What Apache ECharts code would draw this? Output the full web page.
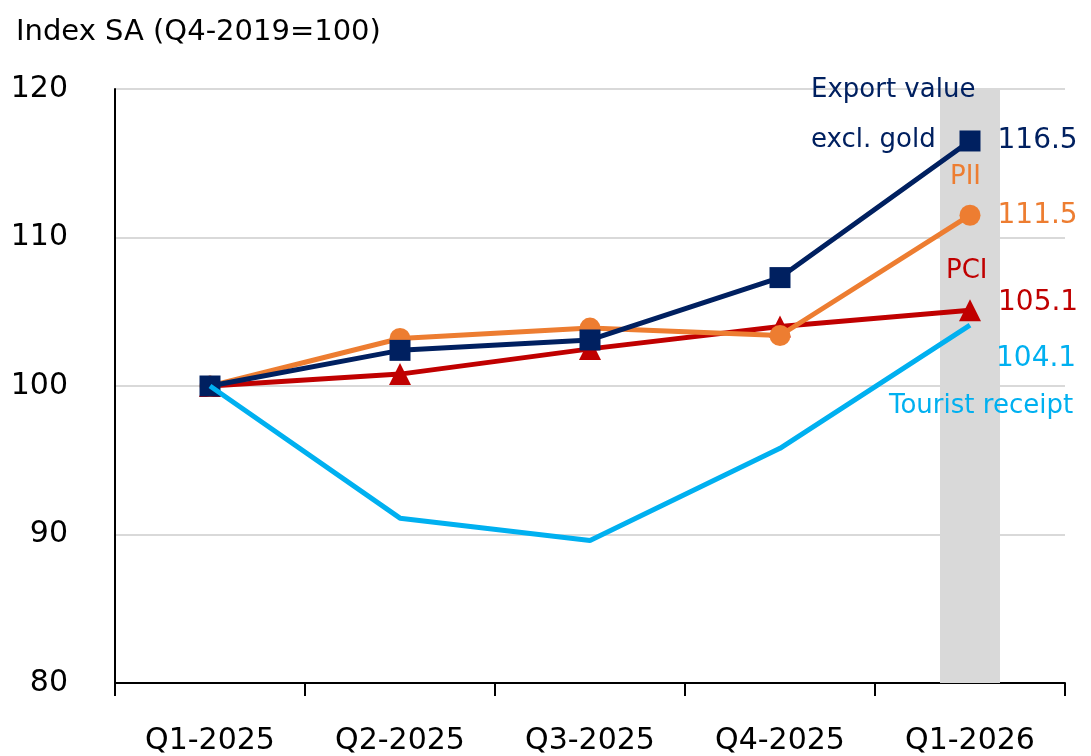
<!DOCTYPE html>
<html>
<head>
<meta charset="utf-8">
<script src="https://cdn.jsdelivr.net/npm/echarts@6/dist/echarts.min.js"></script>
<style>
  html, body { margin: 0; padding: 0; background: #fff; }
  #chart { width: 1091px; height: 756px; }
</style>
</head>
<body>
<div id="chart"></div>
<script>
// data
const quarters = ['Q1-2025', 'Q2-2025', 'Q3-2025', 'Q4-2025', 'Q1-2026'];
const exportValue = [100, 102.4, 103.1, 107.3, 116.5];
const pii = [100, 103.2, 103.9, 103.4, 111.5];
const pci = [100, 100.8, 102.5, 104.0, 105.1];
const tourist = [100, 91.1, 89.6, 95.8, 104.1];
// shaded latest quarter (full axis height)
const highlight = [null, null, null, null, 120];

const FONT = '"DejaVu Sans"';
const colors = {
  exp: '#002060',
  pii: '#ED7D31',
  pci: '#C00000',
  tour: '#00B0F0'
};

// value label on the last point only
function withEndLabel(arr, color, offset) {
  return arr.map((v, i) => i === arr.length - 1 ? {
    value: v,
    label: {
      show: true, position: 'right', distance: 17, offset: offset,
      color: color, fontSize: 28, fontFamily: FONT,
      formatter: p => p.value.toFixed(1)
    }
  } : v);
}

function nameText(text, left, top, color) {
  return {
    type: 'text', left: left, top: top, z: 100,
    style: {text: text, fontFamily: FONT, fontSize: 26, fill: color}
  };
}

const chart = echarts.init(document.getElementById('chart'), null, {renderer: 'canvas'});

const option = {
  animation: false,
  title: {
    text: 'Index SA (Q4-2019=100)',
    left: 11, top: 13,
    textStyle: {fontFamily: FONT, fontSize: 29, fontWeight: 'normal', color: '#000'}
  },
  grid: {left: 115, right: 26, top: 89, bottom: 71},
  xAxis: {
    type: 'category',
    data: quarters,
    boundaryGap: true,
    axisLine: {lineStyle: {color: '#000', width: 2}},
    axisTick: {show: true, length: 13, lineStyle: {color: '#000', width: 2}},
    axisLabel: {fontFamily: FONT, fontSize: 30, color: '#000', margin: 43}
  },
  yAxis: {
    type: 'value',
    min: 80, max: 120, interval: 10,
    axisLine: {show: true, lineStyle: {color: '#000', width: 2}},
    axisTick: {show: false},
    splitLine: {lineStyle: {color: '#D9D9D9', width: 2}},
    axisLabel: {fontFamily: FONT, fontSize: 30, color: '#000', margin: 47}
  },
  graphic: [
    nameText('Export value', 811, 77, colors.exp),
    nameText('excl. gold', 811, 127, colors.exp),
    nameText('PII', 950, 164, colors.pii),
    nameText('PCI', 946, 258, colors.pci),
    nameText('Tourist receipt', 889, 393, colors.tour)
  ],
  series: [
    {
      name: 'band', type: 'bar', data: highlight, barWidth: 60, z: 0,
      itemStyle: {color: '#D9D9D9'}, silent: true
    },
    {
      name: 'PCI', type: 'line', data: withEndLabel(pci, colors.pci, [0, -8]),
      symbol: 'triangle', symbolSize: 22, z: 3,
      lineStyle: {color: colors.pci, width: 5}, itemStyle: {color: colors.pci}
    },
    {
      name: 'PII', type: 'line', data: withEndLabel(pii, colors.pii, [0, 0]),
      symbol: 'circle', symbolSize: 21, z: 4,
      lineStyle: {color: colors.pii, width: 5}, itemStyle: {color: colors.pii}
    },
    {
      name: 'Export value excl. gold', type: 'line', data: withEndLabel(exportValue, colors.exp, [0, 0]),
      symbol: 'rect', symbolSize: 21, z: 5,
      lineStyle: {color: colors.exp, width: 5}, itemStyle: {color: colors.exp}
    },
    {
      name: 'Tourist receipt', type: 'line', data: tourist,
      symbol: 'none', z: 6,
      lineStyle: {color: colors.tour, width: 5}, itemStyle: {color: colors.tour},
      endLabel: {
        show: true, distance: 8, offset: [18, 34],
        color: colors.tour, fontSize: 28, fontFamily: FONT,
        formatter: p => p.value.toFixed(1)
      }
    }
  ]
};

chart.setOption(option, true);
</script>
</body>
</html>
